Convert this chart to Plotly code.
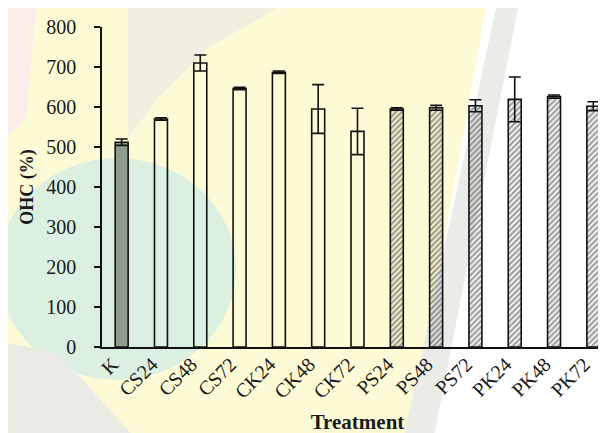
import plotly.graph_objects as go

categories = ["K", "CS24", "CS48", "CS72", "CK24", "CK48", "CK72",
              "PS24", "PS48", "PS72", "PK24", "PK48", "PK72"]
ohc_values = [512, 570, 710, 646, 687, 595, 539, 595, 598, 603, 619, 626, 602]
ohc_errors = [8, 3, 20, 3, 3, 61, 58, 3, 6, 15, 56, 4, 11]
bar_fill = ["#8e9c8c"] + ["rgba(0,0,0,0)"] * 6 + ["rgba(255,255,255,0)"] * 6
bar_pattern = [""] * 7 + ["/"] * 6
y_ticks = [0, 100, 200, 300, 400, 500, 600, 700, 800]

W, H = 606, 433
L, R, T, B = 94, 605, 19, 339


def px(x):
    return (x - L) / (R - L)


def py(y):
    return (B - y) / (B - T)


def poly(points):
    return "M " + " L ".join(f"{px(x):.4f},{py(y):.4f}" for x, y in points) + " Z"


shapes = [
    dict(type="path", xref="paper", yref="paper", layer="below", line_width=0,
         fillcolor="#fdfbd6",
         path=poly([(0, 0), (478, 0), (400, 433), (0, 433)])),
    dict(type="path", xref="paper", yref="paper", layer="below", line_width=0,
         fillcolor="#ebebe8",
         path=poly([(488, 0), (510, 0), (425, 433), (395, 433)])),
    dict(type="path", xref="paper", yref="paper", layer="below", line_width=0,
         fillcolor="#f1f0e0",
         path=poly([(120, 0), (270, 0), (200, 40), (150, 90), (120, 130)])),
    dict(type="circle", xref="paper", yref="paper", layer="below", line_width=0,
         fillcolor="#dcf0e2",
         x0=px(-10), x1=px(228), y0=py(372), y1=py(150)),
    dict(type="path", xref="paper", yref="paper", layer="below", line_width=0,
         fillcolor="#ebebe6",
         path=poly([(0, 335), (50, 345), (130, 433), (0, 433)])),
    dict(type="path", xref="paper", yref="paper", layer="below", line_width=0,
         fillcolor="#fcecea",
         path=poly([(0, 0), (28, 0), (18, 110), (0, 130)])),
]

fig = go.Figure()
fig.add_trace(go.Bar(
    x=categories,
    y=ohc_values,
    error_y=dict(type="data", array=ohc_errors, visible=True,
                 color="#111111", thickness=1.6, width=6),
    marker=dict(
        color=bar_fill,
        line=dict(color="#111111", width=1.6),
        pattern=dict(shape=bar_pattern, fgcolor="#000000", bgcolor="white",
                     size=4, solidity=0.6, fillmode="overlay"),
    ),
    showlegend=False,
))

serif = "Liberation Serif, Times New Roman, serif"
fig.update_layout(
    width=W, height=H,
    margin=dict(l=L, r=W - R, t=T, b=H - B),
    paper_bgcolor="white",
    plot_bgcolor="rgba(0,0,0,0)",
    bargap=0.67,
    font=dict(family=serif, size=20, color="#1a1a1a"),
    shapes=shapes,
    xaxis=dict(
        showline=True, linecolor="#111111", linewidth=1.6,
        ticks="", tickangle=-45, tickfont=dict(size=20),
        ticklabelshift=-9, ticklabelstandoff=-4,
        title=dict(text="<b>Treatment</b>", font=dict(size=21), standoff=13),
        showgrid=False,
    ),
    yaxis=dict(
        range=[0, 800], tickvals=y_ticks,
        showline=True, linecolor="#111111", linewidth=1.6,
        ticks="outside", ticklen=6, tickwidth=1.6, tickcolor="#111111",
        tickfont=dict(size=20), ticklabelstandoff=14,
        title=dict(text="<b>OHC (%)</b>", font=dict(size=18), standoff=8),
        showgrid=False, zeroline=False,
    ),
)

fig.write_html("out.html")
